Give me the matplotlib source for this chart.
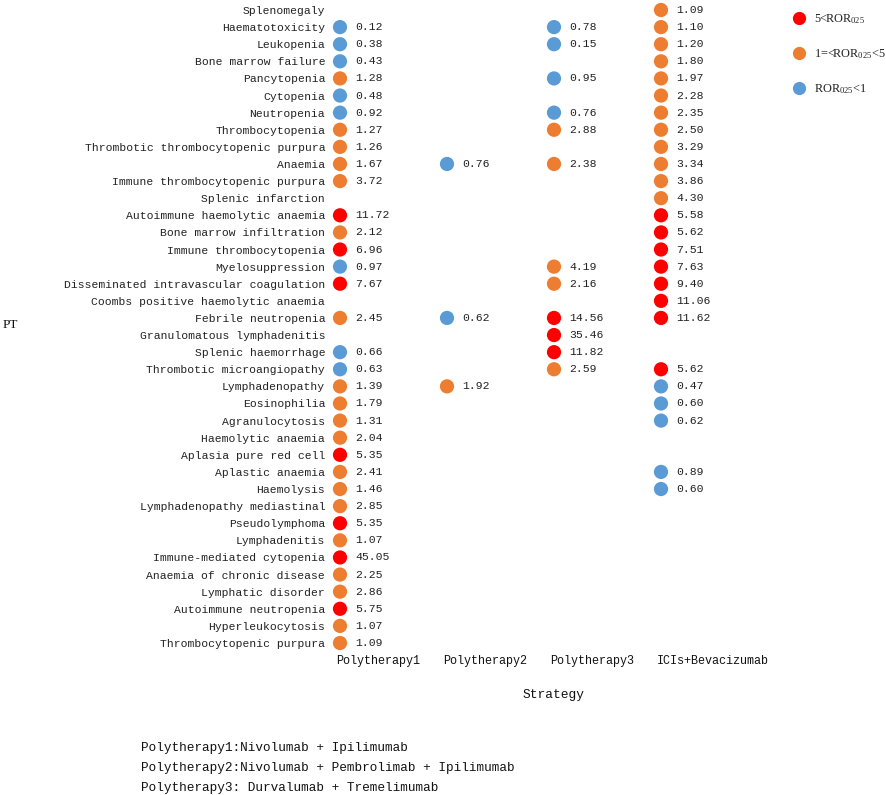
import matplotlib
matplotlib.use("Agg")
import matplotlib.pyplot as plt
import matplotlib.transforms as mtrans
from matplotlib.lines import Line2D

plt.rcParams['font.family'] = ['Liberation Mono', 'DejaVu Sans Mono']
plt.rcParams['mathtext.fontset'] = 'custom'
plt.rcParams['mathtext.rm'] = 'Liberation Serif'
plt.rcParams['mathtext.it'] = 'Liberation Serif'

pts = [
    "Splenomegaly", "Haematotoxicity", "Leukopenia", "Bone marrow failure",
    "Pancytopenia", "Cytopenia", "Neutropenia", "Thrombocytopenia",
    "Thrombotic thrombocytopenic purpura", "Anaemia",
    "Immune thrombocytopenic purpura", "Splenic infarction",
    "Autoimmune haemolytic anaemia", "Bone marrow infiltration",
    "Immune thrombocytopenia", "Myelosuppression",
    "Disseminated intravascular coagulation",
    "Coombs positive haemolytic anaemia", "Febrile neutropenia",
    "Granulomatous lymphadenitis", "Splenic haemorrhage",
    "Thrombotic microangiopathy", "Lymphadenopathy", "Eosinophilia",
    "Agranulocytosis", "Haemolytic anaemia", "Aplasia pure red cell",
    "Aplastic anaemia", "Haemolysis", "Lymphadenopathy mediastinal",
    "Pseudolymphoma", "Lymphadenitis", "Immune-mediated cytopenia",
    "Anaemia of chronic disease", "Lymphatic disorder",
    "Autoimmune neutropenia", "Hyperleukocytosis", "Thrombocytopenic purpura",
]

strategies = ["Polytherapy1", "Polytherapy2", "Polytherapy3", "ICIs+Bevacizumab"]

polytherapy1 = [None, 0.12, 0.38, 0.43, 1.28, 0.48, 0.92, 1.27, 1.26, 1.67,
                3.72, None, 11.72, 2.12, 6.96, 0.97, 7.67, None, 2.45, None,
                0.66, 0.63, 1.39, 1.79, 1.31, 2.04, 5.35, 2.41, 1.46, 2.85,
                5.35, 1.07, 45.05, 2.25, 2.86, 5.75, 1.07, 1.09]
polytherapy2 = [None] * 9 + [0.76] + [None] * 8 + [0.62] + [None] * 3 + [1.92] + [None] * 15
polytherapy3 = [None, 0.78, 0.15, None, 0.95, None, 0.76, 2.88, None, 2.38,
                None, None, None, None, None, 4.19, 2.16, None, 14.56, 35.46,
                11.82, 2.59] + [None] * 16
ici_bev = [1.09, 1.10, 1.20, 1.80, 1.97, 2.28, 2.35, 2.50, 3.29, 3.34, 3.86,
           4.30, 5.58, 5.62, 7.51, 7.63, 9.40, 11.06, 11.62, None, None, 5.62,
           0.47, 0.60, 0.62, None, None, 0.89, 0.60] + [None] * 9

series = [polytherapy1, polytherapy2, polytherapy3, ici_bev]

legend_labels = ["5<ROR$_{025}$", "1=<ROR$_{025}$<5", "ROR$_{025}$<1"]
footnotes = ["Polytherapy1:Nivolumab + Ipilimumab",
             "Polytherapy2:Nivolumab + Pembrolimab + Ipilimumab",
             "Polytherapy3: Durvalumab + Tremelimumab"]

RED, ORANGE, BLUE = "#FF0000", "#ED7D31", "#5B9BD5"


def colour(v):
    if v > 5:
        return RED
    if v >= 1:
        return ORANGE
    return BLUE


W, H = 886, 795
fig = plt.figure(figsize=(W / 100, H / 100), dpi=100)
ax = fig.add_axes([330 / W, 1 - 652 / H, (790 - 330) / W, 652 / H])

for xi, vals in enumerate(series):
    for yi, v in enumerate(vals):
        if v is None:
            continue
        ax.scatter(xi, yi, s=105, color=colour(v), edgecolors='none', zorder=3)
        ax.annotate(f"{v:.2f}", (xi, yi), xytext=(15, 0), textcoords='offset pixels',
                    ha='left', va='center', fontsize=8.2, color='#222222')

ax.set_xlim(-10 / 107, (790 - 340) / 107)
ax.set_ylim(37 + 9 / 17.11, -10 / 17.11)
ax.set_yticks(range(len(pts)))
ax.set_yticklabels(pts, fontsize=8.2, color='#222222')
ax.set_xticks(range(len(strategies)))
ax.set_xticklabels(strategies, fontsize=8.5, ha='left', color='#111111')
ax.tick_params(axis='both', length=0)
ax.tick_params(axis='y', pad=3.5)
ax.tick_params(axis='x', pad=2)
offset = mtrans.ScaledTranslation(-4 / 100, 0, fig.dpi_scale_trans)
for lab in ax.get_xticklabels():
    lab.set_transform(lab.get_transform() + offset)
for s in ax.spines.values():
    s.set_visible(False)

fig.text(554 / W, 1 - 695 / H, "Strategy", ha='center', va='center', fontsize=9.3, color='#111111')
fig.text(3 / W, 1 - 325 / H, "PT", ha='left', va='center', fontsize=9.5,
         family='Liberation Serif', color='#111111')
for i, t in enumerate(footnotes):
    fig.text(141 / W, 1 - (748 + 20 * i) / H, t, ha='left', va='center',
             fontsize=9.2, color='#111111')

handles = [Line2D([], [], linestyle='none', marker='o', markersize=9.5,
                  markerfacecolor=c, markeredgecolor='none') for c in (RED, ORANGE, BLUE)]
leg = fig.legend(handles, legend_labels, loc='upper left',
                 bbox_to_anchor=(792 / W, 1 - 12 / H), frameon=False,
                 prop={'family': 'Liberation Serif', 'size': 8.8},
                 labelspacing=1.75, handletextpad=0.6, handlelength=1.2,
                 borderpad=0, borderaxespad=0)
for t in leg.get_texts():
    t.set_color('#222222')

fig.savefig("out.png", dpi=100)
